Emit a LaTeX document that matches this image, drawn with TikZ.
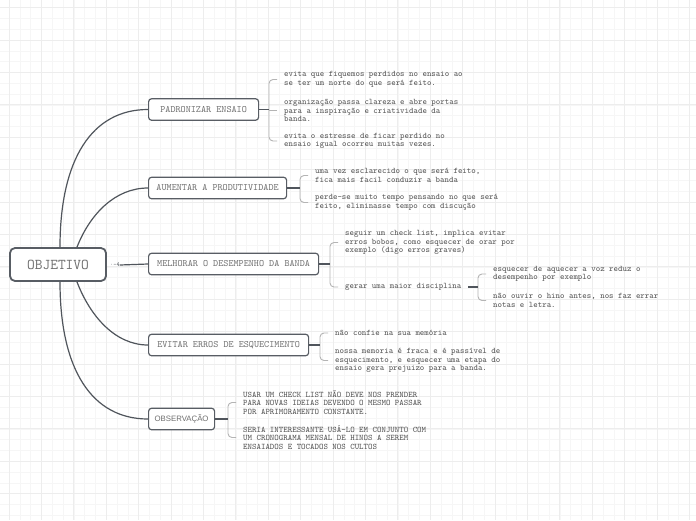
\documentclass[tikz,border=0pt]{standalone}
\usepackage{fontspec}
\newfontfamily\obsfont{Liberation Sans}
\usetikzlibrary{calc}
\definecolor{gridminor}{RGB}{246,246,246}
\definecolor{gridmajor}{RGB}{237,237,237}
\definecolor{boxline}{RGB}{88,93,100}
\definecolor{connline}{RGB}{80,85,92}
\definecolor{brkline}{RGB}{180,180,180}
\definecolor{leaftext}{RGB}{85,85,85}
\definecolor{nodetext}{RGB}{110,110,110}
\begin{document}
\begin{tikzpicture}[x=1pt,y=-1pt,
  gminor/.style={draw=gridminor,line width=0.5pt},
  gmajor/.style={draw=gridmajor,line width=0.8pt},
  rootbox/.style={draw=boxline,line width=1.8pt,rounded corners=5pt,fill=white,
    minimum width=96pt,minimum height=33pt,inner sep=0pt,text=nodetext,
    font=\ttfamily\fontsize{15}{15}\selectfont},
  branchbox/.style={draw=boxline,line width=1.2pt,rounded corners=3pt,fill=white,
    minimum height=21.5pt,inner sep=0pt,anchor=west,text=nodetext,
    font=\ttfamily\fontsize{9.7}{10}\selectfont},
  leaf/.style={anchor=west,align=left,inner xsep=7pt,inner ysep=0pt,text=leaftext,
    font=\ttfamily\fontsize{8.5}{8.6}\selectfont},
  conn/.style={draw=connline,line width=1.2pt},
  brk/.style={draw=brkline,line width=0.9pt,rounded corners=4pt},
  foldmark/.style={inner sep=0pt,text=connline,font=\ttfamily\fontsize{6}{6}\selectfont}
]
\useasboundingbox (0,0) rectangle (696,520);
\fill[white] (0,0) rectangle (696,520);
% grid
\foreach \i in {0,...,65} {\draw[gminor] ({-1.8+10.8*\i},0) -- ++(0,520);}
\foreach \i in {0,...,49} {\draw[gminor] (0,{-3.2+10.8*\i}) -- ++(696,0);}
\foreach \i in {0,...,21} {\draw[gmajor] ({9+32.4*\i},0) -- ++(0,520);}
\foreach \i in {0,...,16} {\draw[gmajor] (0,{7.6+32.4*\i}) -- ++(696,0);}

% root and branches
\node[rootbox] (obj) at (58,264.5) {OBJETIVO};
\node[branchbox,minimum width=110pt] (p1) at (148,109.5) {PADRONIZAR ENSAIO};
\node[branchbox,minimum width=138pt] (p2) at (148,188) {AUMENTAR A PRODUTIVIDADE};
\node[branchbox,minimum width=170pt] (p3) at (148,264) {MELHORAR O DESEMPENHO DA BANDA};
\node[branchbox,minimum width=160pt] (p4) at (148,345) {EVITAR ERROS DE ESQUECIMENTO};
\node[branchbox,minimum width=66pt,font=\obsfont\fontsize{7.8}{8}\selectfont] (p5) at (148,419) {OBSERVAÇÃO};
\node[foldmark] (fold) at (115,265) {·-4};

% root connectors
\draw[conn] ([xshift=2pt]obj.north) .. controls +(0,-88) and +(-56,0) .. (p1.west);
\draw[conn] ([xshift=19pt]obj.north) .. controls +(13,-33) and +(-33,0) .. (p2.west);
\draw[conn] (fold.east) -- (p3.west);
\draw[conn] ([xshift=19pt]obj.south) .. controls +(13,34) and +(-33,0) .. (p4.west);
\draw[conn] ([xshift=2pt]obj.south) .. controls +(0,88) and +(-56,0) .. (p5.west);

% bracket spine points
\coordinate (b1) at (269,109.5);
\coordinate (b2) at (300,188);
\coordinate (b3) at (330,264);
\coordinate (b4) at (320,345);
\coordinate (b5) at (228,419);
\coordinate (b32) at (478,287);

% leaves: PADRONIZAR
\node[leaf] (l11) at (277,79.5) {evita que fiquemos perdidos no ensaio ao\\se ter um norte do que será feito.};
\node[leaf] (l12) at (277,110.5) {organização passa clareza e abre portas\\para a inspiração e criatividade da\\banda.};
\node[leaf] (l13) at (277,141) {evita o estresse de ficar perdido no\\ensaio igual ocorreu muitas vezes.};
% AUMENTAR
\node[leaf] (l21) at (308,175.5) {uma vez esclarecido o que será feito,\\fica mais facil conduzir a banda};
\node[leaf] (l22) at (308,202.5) {perde-se muito tempo pensando no que será\\feito, eliminasse tempo com discução};
% MELHORAR
\node[leaf] (l31) at (338,242.5) {seguir um check list, implica evitar\\erros bobos, como esquecer de orar por\\exemplo (digo erros graves)};
\node[leaf] (l32) at (338,287) {gerar uma maior disciplina};
\node[leaf] (s1) at (486,274) {esquecer de aquecer a voz reduz o\\desempenho por exemplo};
\node[leaf] (s2) at (486,300.5) {não ouvir o hino antes, nos faz errar\\notas e letra.};
% EVITAR
\node[leaf] (l41) at (328,333) {não confie na sua memória};
\node[leaf] (l42) at (328,360.5) {nossa memoria é fraca e é passível de\\esquecimento, e esquecer uma etapa do\\ensaio gera prejuizo para a banda.};
% OBSERVACAO
\node[leaf] (l51) at (236,402.5) {USAR UM CHECK LIST NÃO DEVE NOS PRENDER\\PARA NOVAS IDEIAS DEVENDO O MESMO PASSAR\\POR APRIMORAMENTO CONSTANTE.};
\node[leaf] (l52) at (236,437.5) {SERIA INTERESSANTE USÁ-LO EM CONJUNTO COM\\UM CRONOGRAMA MENSAL DE HINOS A SEREM\\ENSAIADOS E TOCADOS NOS CULTOS};

% brackets
\draw[brk] (l11.west) -- (l11.west -| b1) -- (l13.west -| b1) -- (l13.west);
\draw[brk] (l12.west -| b1) -- (l12.west);
\draw[conn] (p1.east) -- (b1);

\draw[brk] (l21.west) -- (l21.west -| b2) -- (l22.west -| b2) -- (l22.west);
\draw[conn] (p2.east) -- (b2);

\draw[brk] (l31.west) -- (l31.west -| b3) -- (l32.west -| b3) -- (l32.west);
\draw[conn] (p3.east) -- (b3);

\draw[brk] (s1.west) -- (s1.west -| b32) -- (s2.west -| b32) -- (s2.west);
\draw[conn] (l32.east) -- (b32);

\draw[brk] (l41.west) -- (l41.west -| b4) -- (l42.west -| b4) -- (l42.west);
\draw[conn] (p4.east) -- (b4);

\draw[brk] (l51.west) -- (l51.west -| b5) -- (l52.west -| b5) -- (l52.west);
\draw[conn] (p5.east) -- (b5);
\end{tikzpicture}
\end{document}
